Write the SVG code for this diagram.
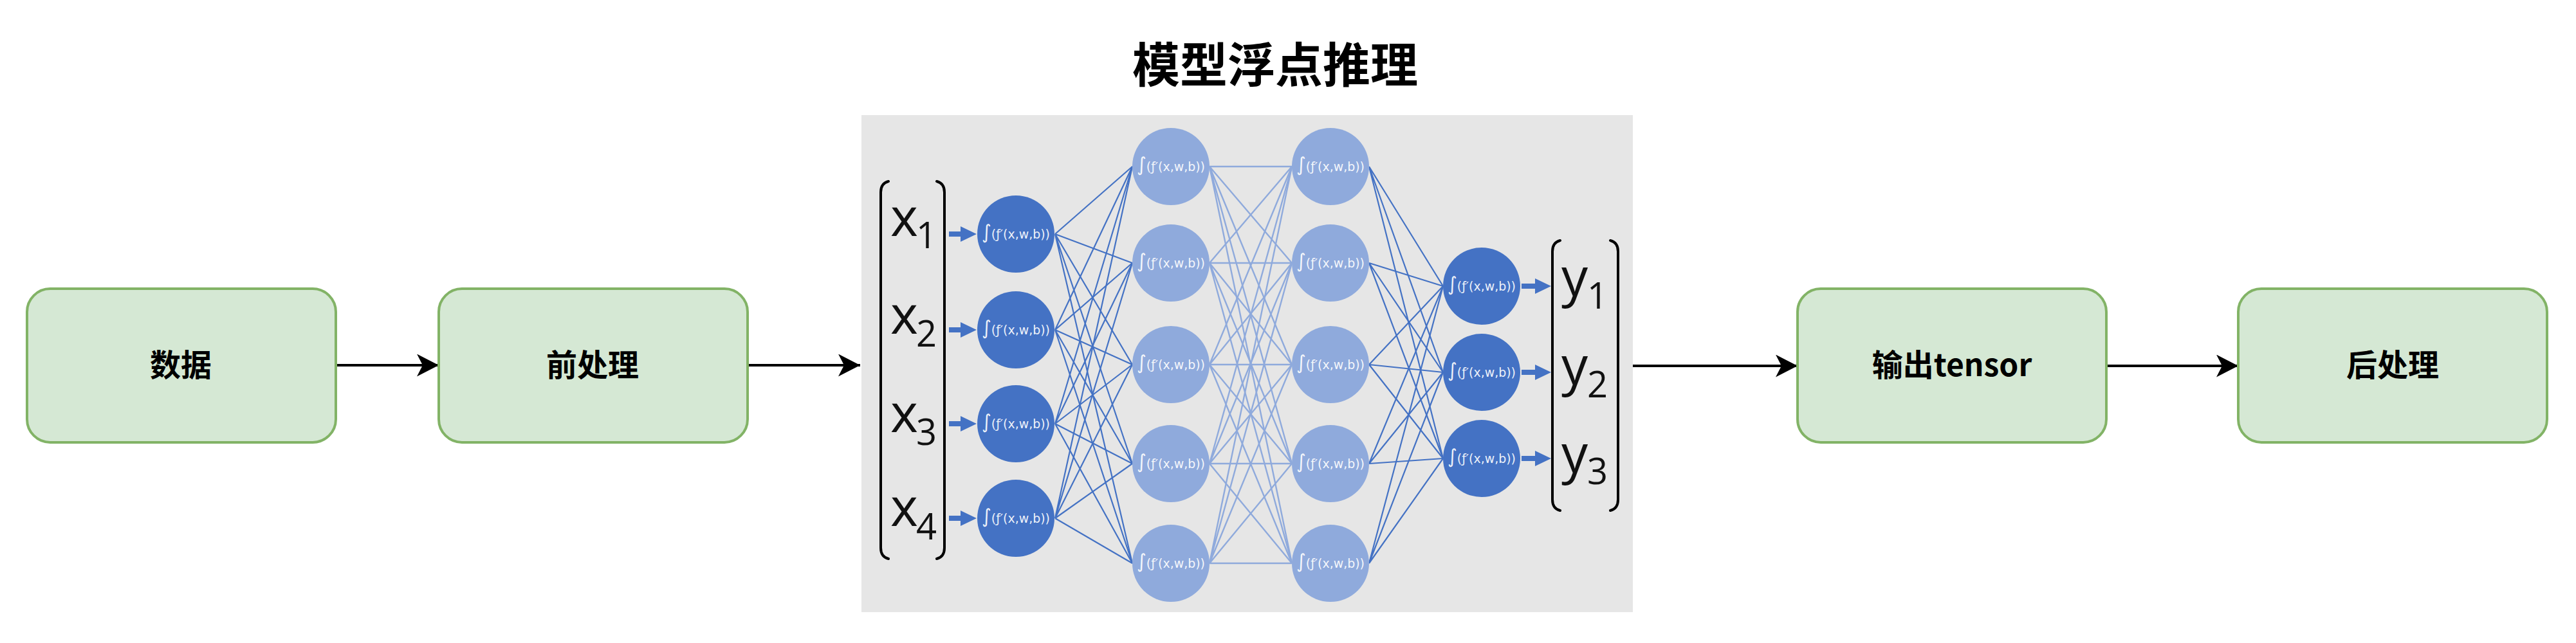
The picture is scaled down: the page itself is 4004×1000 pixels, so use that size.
<svg xmlns="http://www.w3.org/2000/svg" width="4004" height="1000" viewBox="0 0 4004 1000">
<style>
.box{fill:#d5e8d4;stroke:#82b366;stroke-width:4}
.lbl{font-family:"Noto Sans CJK SC","Liberation Sans",sans-serif;font-weight:bold;font-size:48px;fill:#000;text-anchor:middle}
.title{font-family:"Noto Sans CJK SC",sans-serif;font-weight:bold;font-size:74px;fill:#000;text-anchor:middle}
.flow{stroke:#000;stroke-width:4;fill:none;marker-end:url(#ah)}
.dk{fill:#4472C4}
.lt{fill:#8FAADC}
.ed{stroke:#4472C4;stroke-width:2.2;fill:none}
.el{stroke:#8FAADC;stroke-width:2.4;fill:none}
.nt{font-family:"DejaVu Sans",sans-serif;font-size:20px;fill:#fff;fill-opacity:0.92;text-anchor:middle}
.ig{font-size:30px}
.br{stroke:#000;stroke-width:4;fill:none;stroke-linecap:round}
.mx{font-family:"Open Sans","DejaVu Sans",sans-serif;font-size:82px;fill:#111}
.sb{font-family:"Open Sans","DejaVu Sans",sans-serif;font-size:56px;fill:#111}
</style>
<defs>
<marker id="ah" markerUnits="userSpaceOnUse" markerWidth="36" markerHeight="36" refX="34" refY="17.5" orient="auto">
<path d="M0,0 L34,17.5 L0,35 L9,17.5 Z" fill="#000"/>
</marker>
</defs>
<rect width="4004" height="1000" fill="#fff"/>

<g id="title"><text class="title" x="1982" y="128">模型浮点推理</text></g>

<g id="panel"><rect x="1339" y="179" width="1199" height="773" fill="#E6E6E6"/></g>

<g id="connectors">
<line class="flow" x1="522" y1="568" x2="682" y2="568"/>
<line class="flow" x1="1162" y1="568" x2="1337" y2="568"/>
<line class="flow" x1="2538" y1="569" x2="2794" y2="569"/>
<line class="flow" x1="3274" y1="569" x2="3479" y2="569"/>
</g>

<g id="box-data"><rect class="box" x="42" y="449" width="480" height="239" rx="36"/><text class="lbl" x="281" y="585">数据</text></g>
<g id="box-pre"><rect class="box" x="682" y="449" width="480" height="239" rx="36"/><text class="lbl" x="921" y="585">前处理</text></g>
<g id="box-out"><rect class="box" x="2794" y="449" width="480" height="239" rx="36"/><text class="lbl" x="3034" y="585">输出tensor</text></g>
<g id="box-post"><rect class="box" x="3479" y="449" width="480" height="239" rx="36"/><text class="lbl" x="3719" y="585">后处理</text></g>

<g id="nn-edges">
<g class="ed">
<path d="M1640,364 L1760,259 M1640,364 L1760,409 M1640,364 L1760,567 M1640,364 L1760,721 M1640,364 L1760,876"/>
<path d="M1640,513 L1760,259 M1640,513 L1760,409 M1640,513 L1760,567 M1640,513 L1760,721 M1640,513 L1760,876"/>
<path d="M1640,659 L1760,259 M1640,659 L1760,409 M1640,659 L1760,567 M1640,659 L1760,721 M1640,659 L1760,876"/>
<path d="M1640,806 L1760,259 M1640,806 L1760,409 M1640,806 L1760,567 M1640,806 L1760,721 M1640,806 L1760,876"/>
</g>
<g class="el">
<path d="M1880,259 L2008,259 M1880,259 L2008,409 M1880,259 L2008,567 M1880,259 L2008,721 M1880,259 L2008,876"/>
<path d="M1880,409 L2008,259 M1880,409 L2008,409 M1880,409 L2008,567 M1880,409 L2008,721 M1880,409 L2008,876"/>
<path d="M1880,567 L2008,259 M1880,567 L2008,409 M1880,567 L2008,567 M1880,567 L2008,721 M1880,567 L2008,876"/>
<path d="M1880,721 L2008,259 M1880,721 L2008,409 M1880,721 L2008,567 M1880,721 L2008,721 M1880,721 L2008,876"/>
<path d="M1880,876 L2008,259 M1880,876 L2008,409 M1880,876 L2008,567 M1880,876 L2008,721 M1880,876 L2008,876"/>
</g>
<g class="ed">
<path d="M2128,259 L2243,445 M2128,259 L2243,579 M2128,259 L2243,713"/>
<path d="M2128,409 L2243,445 M2128,409 L2243,579 M2128,409 L2243,713"/>
<path d="M2128,567 L2243,445 M2128,567 L2243,579 M2128,567 L2243,713"/>
<path d="M2128,721 L2243,445 M2128,721 L2243,579 M2128,721 L2243,713"/>
<path d="M2128,876 L2243,445 M2128,876 L2243,579 M2128,876 L2243,713"/>
</g>
<g class="dk">
<path d="M1475,360 H1493 V352 L1518,364 L1493,376 V368 H1475 Z"/>
<path d="M1475,509 H1493 V501 L1518,513 L1493,525 V517 H1475 Z"/>
<path d="M1475,655 H1493 V647 L1518,659 L1493,671 V663 H1475 Z"/>
<path d="M1475,802 H1493 V794 L1518,806 L1493,818 V810 H1475 Z"/>
<path d="M2365,441 H2386 V433 L2411,445 L2386,457 V449 H2365 Z"/>
<path d="M2365,575 H2386 V567 L2411,579 L2386,591 V583 H2365 Z"/>
<path d="M2365,709 H2386 V701 L2411,713 L2386,725 V717 H2365 Z"/>
</g>
</g>

<g id="x-vector">
<path class="br" d="M1381,282 Q1369,285 1369,299 V852 Q1369,866 1381,869"/>
<path class="br" d="M1456,282 Q1468,285 1468,299 V852 Q1468,866 1456,869"/>
<text class="mx" x="1384" y="367">x</text><text class="sb" x="1424" y="386">1</text>
<text class="mx" x="1384" y="519">x</text><text class="sb" x="1424" y="539">2</text>
<text class="mx" x="1384" y="672">x</text><text class="sb" x="1424" y="692">3</text>
<text class="mx" x="1384" y="818">x</text><text class="sb" x="1424" y="839">4</text>
</g>

<g id="y-vector">
<path class="br" d="M2425,374 Q2413,377 2413,391 V777 Q2413,791 2425,794"/>
<path class="br" d="M2503,374 Q2515,377 2515,391 V777 Q2515,791 2503,794"/>
<text class="mx" x="2427" y="460">y</text><text class="sb" x="2467" y="480">1</text>
<text class="mx" x="2427" y="598">y</text><text class="sb" x="2467" y="618">2</text>
<text class="mx" x="2427" y="735">y</text><text class="sb" x="2467" y="753">3</text>
</g>

<g id="n1-1"><circle class="dk" cx="1579" cy="364" r="60"/><text class="nt" x="1579" y="371" textLength="106" lengthAdjust="spacingAndGlyphs"><tspan class="ig">∫</tspan>(ƒ′(x,w,b))</text></g>
<g id="n1-2"><circle class="dk" cx="1579" cy="513" r="60"/><text class="nt" x="1579" y="520" textLength="106" lengthAdjust="spacingAndGlyphs"><tspan class="ig">∫</tspan>(ƒ′(x,w,b))</text></g>
<g id="n1-3"><circle class="dk" cx="1579" cy="659" r="60"/><text class="nt" x="1579" y="666" textLength="106" lengthAdjust="spacingAndGlyphs"><tspan class="ig">∫</tspan>(ƒ′(x,w,b))</text></g>
<g id="n1-4"><circle class="dk" cx="1579" cy="806" r="60"/><text class="nt" x="1579" y="813" textLength="106" lengthAdjust="spacingAndGlyphs"><tspan class="ig">∫</tspan>(ƒ′(x,w,b))</text></g>

<g id="n2-1"><circle class="lt" cx="1820" cy="259" r="60"/><text class="nt" x="1820" y="266" textLength="106" lengthAdjust="spacingAndGlyphs"><tspan class="ig">∫</tspan>(ƒ′(x,w,b))</text></g>
<g id="n2-2"><circle class="lt" cx="1820" cy="409" r="60"/><text class="nt" x="1820" y="416" textLength="106" lengthAdjust="spacingAndGlyphs"><tspan class="ig">∫</tspan>(ƒ′(x,w,b))</text></g>
<g id="n2-3"><circle class="lt" cx="1820" cy="567" r="60"/><text class="nt" x="1820" y="574" textLength="106" lengthAdjust="spacingAndGlyphs"><tspan class="ig">∫</tspan>(ƒ′(x,w,b))</text></g>
<g id="n2-4"><circle class="lt" cx="1820" cy="721" r="60"/><text class="nt" x="1820" y="728" textLength="106" lengthAdjust="spacingAndGlyphs"><tspan class="ig">∫</tspan>(ƒ′(x,w,b))</text></g>
<g id="n2-5"><circle class="lt" cx="1820" cy="876" r="60"/><text class="nt" x="1820" y="883" textLength="106" lengthAdjust="spacingAndGlyphs"><tspan class="ig">∫</tspan>(ƒ′(x,w,b))</text></g>

<g id="n3-1"><circle class="lt" cx="2068" cy="259" r="60"/><text class="nt" x="2068" y="266" textLength="106" lengthAdjust="spacingAndGlyphs"><tspan class="ig">∫</tspan>(ƒ′(x,w,b))</text></g>
<g id="n3-2"><circle class="lt" cx="2068" cy="409" r="60"/><text class="nt" x="2068" y="416" textLength="106" lengthAdjust="spacingAndGlyphs"><tspan class="ig">∫</tspan>(ƒ′(x,w,b))</text></g>
<g id="n3-3"><circle class="lt" cx="2068" cy="567" r="60"/><text class="nt" x="2068" y="574" textLength="106" lengthAdjust="spacingAndGlyphs"><tspan class="ig">∫</tspan>(ƒ′(x,w,b))</text></g>
<g id="n3-4"><circle class="lt" cx="2068" cy="721" r="60"/><text class="nt" x="2068" y="728" textLength="106" lengthAdjust="spacingAndGlyphs"><tspan class="ig">∫</tspan>(ƒ′(x,w,b))</text></g>
<g id="n3-5"><circle class="lt" cx="2068" cy="876" r="60"/><text class="nt" x="2068" y="883" textLength="106" lengthAdjust="spacingAndGlyphs"><tspan class="ig">∫</tspan>(ƒ′(x,w,b))</text></g>

<g id="n4-1"><circle class="dk" cx="2303" cy="445" r="60"/><text class="nt" x="2303" y="452" textLength="106" lengthAdjust="spacingAndGlyphs"><tspan class="ig">∫</tspan>(ƒ′(x,w,b))</text></g>
<g id="n4-2"><circle class="dk" cx="2303" cy="579" r="60"/><text class="nt" x="2303" y="586" textLength="106" lengthAdjust="spacingAndGlyphs"><tspan class="ig">∫</tspan>(ƒ′(x,w,b))</text></g>
<g id="n4-3"><circle class="dk" cx="2303" cy="713" r="60"/><text class="nt" x="2303" y="720" textLength="106" lengthAdjust="spacingAndGlyphs"><tspan class="ig">∫</tspan>(ƒ′(x,w,b))</text></g>
</svg>
